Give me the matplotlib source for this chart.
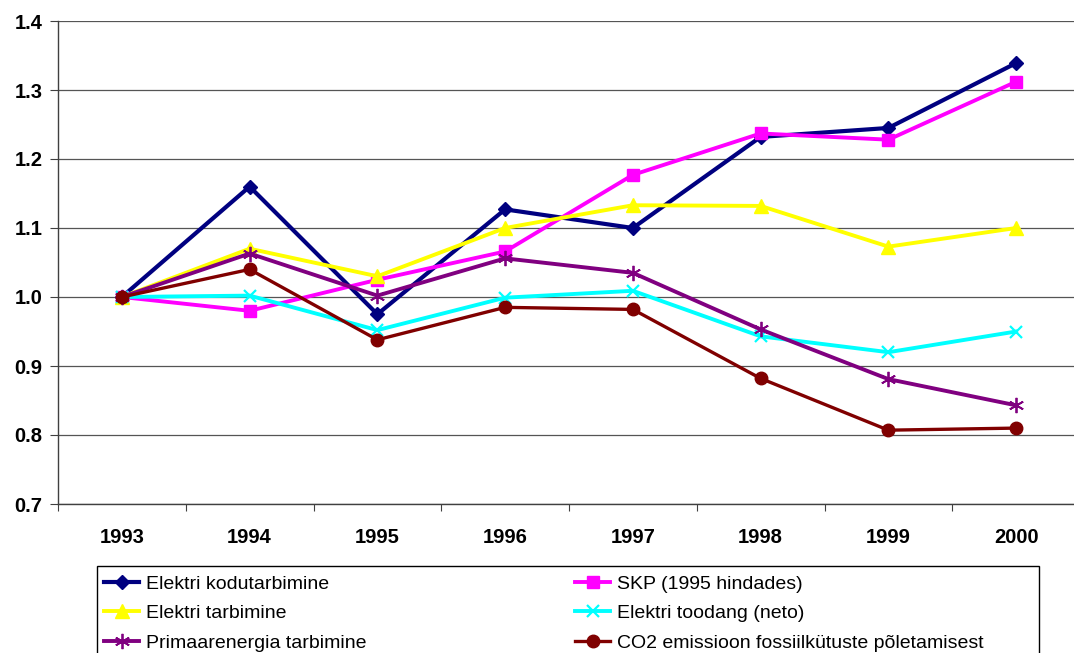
import matplotlib as mpl
mpl.use('Agg')
import matplotlib.pyplot as plt
from matplotlib.patches import Rectangle

plt.rcParams['font.family'] = ['Liberation Sans', 'DejaVu Sans']

# Data (index, 1993 = 1.0)
years = ['1993', '1994', '1995', '1996', '1997', '1998', '1999', '2000']
kodutarbimine = [1.0, 1.160, 0.975, 1.127, 1.100, 1.232, 1.245, 1.339]
skp           = [1.0, 0.980, 1.025, 1.066, 1.177, 1.237, 1.228, 1.312]
tarbimine     = [1.0, 1.070, 1.030, 1.100, 1.133, 1.132, 1.073, 1.100]
toodang       = [1.0, 1.002, 0.952, 0.999, 1.009, 0.943, 0.920, 0.950]
primaar       = [1.0, 1.063, 1.002, 1.056, 1.035, 0.953, 0.881, 0.843]
co2           = [1.0, 1.040, 0.938, 0.985, 0.982, 0.882, 0.807, 0.810]

W, H = 1074, 653
fig = plt.figure(figsize=(W / 100, H / 100), dpi=100)

# plot area in pixels: left 58, top 21, bottom 504, right runs off the image
left, top, bottom, right = 58, 21, 504, 1080
ax = fig.add_axes([left / W, 1 - bottom / H, (right - left) / W, (bottom - top) / H])

x = list(range(len(years)))
lines = {}
lines['kodu'], = ax.plot(x, kodutarbimine, color='#000080', lw=3.0, marker='D', ms=7,
                         label='Elektri kodutarbimine')
lines['skp'], = ax.plot(x, skp, color='#FF00FF', lw=2.8, marker='s', ms=9,
                        label='SKP (1995 hindades)')
lines['tarb'], = ax.plot(x, tarbimine, color='#FFFF00', lw=2.8, marker='^', ms=10,
                         label='Elektri tarbimine')
lines['tood'], = ax.plot(x, toodang, color='#00FFFF', lw=2.8, marker='x', ms=9, mew=1.6,
                         label='Elektri toodang (neto)')
lines['prim'], = ax.plot(x, primaar, color='#800080', lw=2.8, marker=(6, 2, 0), ms=11, mew=1.3,
                         label='Primaarenergia tarbimine')
lines['co2'], = ax.plot(x, co2, color='#800000', lw=2.4, marker='o', ms=9,
                        label='CO2 emissioon fossiilkütuste põletamisest')

ax.set_ylim(0.7, 1.4)
ax.set_yticks([0.7, 0.8, 0.9, 1.0, 1.1, 1.2, 1.3, 1.4])
ax.set_yticklabels(['%.1f' % v for v in ax.get_yticks()], fontsize=14.5, fontweight='bold')
ax.set_xlim(-0.5, len(years) - 0.5)

# ticks on the category boundaries, labels in the middle
ax.set_xticks([i - 0.5 for i in range(len(years) + 1)])
ax.set_xticklabels([])
ax.set_xticks(x, minor=True)
ax.set_xticklabels(years, minor=True, fontsize=14.5, fontweight='bold')
ax.tick_params(axis='x', which='major', length=5, color='#404040')
ax.tick_params(axis='x', which='minor', length=0, pad=17)
ax.tick_params(axis='y', length=5.5, pad=5.5, color='#404040')

ax.grid(axis='y', color='#555555', lw=0.9)
ax.set_axisbelow(True)
for s in ['top', 'right']:
    ax.spines[s].set_visible(False)
for s in ['left', 'bottom']:
    ax.spines[s].set_color('#404040')
    ax.spines[s].set_linewidth(1.0)

# legend box at the bottom, cut off by the image edge
fig.patches.append(Rectangle((97 / W, -0.02), (1039 - 97) / W, (653 - 566) / H + 0.02,
                             transform=fig.transFigure, fill=False, ec='black', lw=1.0))
leg_kw = dict(loc='upper left', ncol=1, frameon=False, fontsize=14, handlelength=1.8,
              handletextpad=0.36, labelspacing=0.62, borderpad=0, borderaxespad=0)
col1 = ['kodu', 'tarb', 'prim']
col2 = ['skp', 'tood', 'co2']
fig.legend([lines[k] for k in col1], [lines[k].get_label() for k in col1],
           bbox_to_anchor=(104 / W, 1 - 575 / H), **leg_kw)
fig.legend([lines[k] for k in col2], [lines[k].get_label() for k in col2],
           bbox_to_anchor=(575 / W, 1 - 575 / H), **leg_kw)

plt.savefig('out.png', dpi=100)
